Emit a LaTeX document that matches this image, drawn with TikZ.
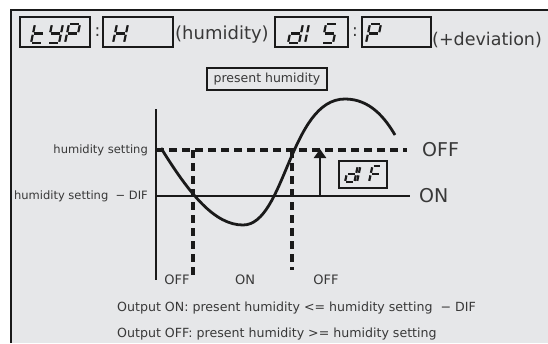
\documentclass[tikz,border=0pt]{standalone}
\usepackage{fontspec}
\setmainfont{DejaVu Sans}
\usetikzlibrary{arrows.meta}
\definecolor{bg}{HTML}{E6E7E9}
\definecolor{ink}{HTML}{1A1A1A}
\definecolor{txt}{HTML}{383838}
\tikzset{
  segline/.style={line width=2.2pt, line cap=butt, shorten <=1.3pt, shorten >=1.3pt, draw=ink},
  dispbox/.style={draw=ink, line width=1.9pt, inner sep=0pt},
  smallbox/.style={draw=ink, line width=1.2pt, inner sep=0pt},
  lbl/.style={text=txt, inner sep=0pt},
  heavy/.style={draw=ink, line width=2.8pt},
  dashline/.style={draw=ink, line width=3.2pt, dash pattern=on 8pt off 5pt},
}
\newcommand\sA{\draw[segline] (4,0) -- (15,0);}
\newcommand\sB{\draw[segline] (15,0) -- (13,9.5);}
\newcommand\sC{\draw[segline] (13,9.5) -- (11,19);}
\newcommand\sD{\draw[segline] (0,19) -- (11,19);}
\newcommand\sE{\draw[segline] (2,9.5) -- (0,19);}
\newcommand\sF{\draw[segline] (4,0) -- (2,9.5);}
\newcommand\sG{\draw[segline] (2,9.5) -- (13,9.5);}
\newcommand\digit[2]{\begin{scope}[shift={#1}]#2\end{scope}}
\newcommand\digitsm[2]{\begin{scope}[shift={#1},scale=0.85]#2\end{scope}}
\begin{document}
\begin{tikzpicture}[x=1pt,y=-1pt]
\useasboundingbox (0,0) rectangle (548,343);
\fill[bg] (10,9) rectangle (548,343);
\draw[ink, line width=2.2pt] (11,343) -- (11,10) -- (548,10);

% display boxes
\node[dispbox, minimum width=70pt, minimum height=30pt] (typ) at (55,32) {};
\node[dispbox, minimum width=70pt, minimum height=30pt] (hbox) at (138,32) {};
\node[dispbox, minimum width=73pt, minimum height=30pt] (dis) at (311.5,32) {};
\node[dispbox, minimum width=69pt, minimum height=30pt] (pbox) at (396.5,32) {};
\node[lbl, font=\fontsize{17}{17}\selectfont] (c1) at (97.5,32) {:};
\node[lbl, font=\fontsize{17}{17}\selectfont] (c2) at (355,32) {:};
\node[lbl, anchor=west, font=\fontsize{18}{18}\selectfont] (hum) at (175,35) {(humidity)};
\node[lbl, anchor=west, font=\fontsize{17.5}{18}\selectfont] (dev) at (432,40) {(+deviation)};

% seven segment characters
\digit{(31,24)}{\sD\sE\sF\sG}
\digit{(48,24)}{\sB\sC\sD\sF\sG}
\digit{(65,24)}{\sA\sB\sE\sF\sG}
\digit{(113,24)}{\sB\sC\sE\sF\sG}
\digit{(288,24)}{\sB\sC\sD\sE\sG}
\digit{(305,24)}{\sE\sF}
\digit{(322,24)}{\sA\sF\sG\sC\sD}
\digit{(366,24)}{\sA\sB\sE\sF\sG}

% present humidity
\node[smallbox, minimum width=120pt, minimum height=22pt, text=txt, font=\fontsize{12.5}{12.5}\selectfont] (ph) at (267,79) {present humidity};

% axes and levels
\coordinate (axtop) at (156,109);
\coordinate (axbot) at (156,280);
\coordinate (setL) at (156,150);
\coordinate (setR) at (407,150);
\coordinate (onL) at (156,196);
\coordinate (onR) at (410,196);
\coordinate (v1t) at (193,150);
\coordinate (v1b) at (193,276);
\coordinate (v2t) at (292,150);
\coordinate (v2b) at (292,270);
\coordinate (arB) at (320,196);
\coordinate (arT) at (320,149);
\coordinate (k0) at (161,148);
\coordinate (kmin) at (243,225);
\coordinate (kmax) at (345,99);
\coordinate (kend) at (395,135);

\draw[heavy] (axtop) -- (axbot);
\draw[heavy] (onL) -- (onR);
\draw[dashline] (setL) -- (setR);
\draw[dashline] (v1t) -- (v1b);
\draw[dashline] (v2t) -- (v2b);
\draw[heavy, -{Triangle[length=9pt,width=12pt]}] (arB) -- (arT);

\draw[ink, line width=2.8pt] (k0) .. controls (190,195) and (215,225) .. (kmin)
  .. controls (285,225) and (290,99) .. (kmax)
  .. controls (370,99) and (385,118) .. (kend);

% dIF box
\node[dispbox, minimum width=48pt, minimum height=27pt] (dif) at (363,174.5) {};
\digitsm{(345,166)}{\sB\sC\sD\sE\sG}
\digitsm{(357,166)}{\sE\sF}
\digitsm{(369,166)}{\sA\sE\sF\sG}

% labels
\node[lbl, anchor=east, font=\fontsize{11.5}{12}\selectfont] (lset) at (148,150) {humidity setting};
\node[lbl, anchor=east, font=\fontsize{11.5}{12}\selectfont] (ldif) at (148,196) {humidity setting\ \ − DIF};
\node[lbl, anchor=west, font=\fontsize{19}{19}\selectfont] (roff) at (422,150) {OFF};
\node[lbl, anchor=west, font=\fontsize{19}{19}\selectfont] (ron) at (419,196) {ON};
\node[lbl, font=\fontsize{13}{13}\selectfont] (boff1) at (177,280) {OFF};
\node[lbl, font=\fontsize{13}{13}\selectfont] (bon) at (245,280) {ON};
\node[lbl, font=\fontsize{13}{13}\selectfont] (boff2) at (326,280) {OFF};
\node[lbl, anchor=west, font=\fontsize{12.6}{13}\selectfont] (out1) at (117,308) {Output ON: present humidity <= humidity setting\ \ − DIF};
\node[lbl, anchor=west, font=\fontsize{12.6}{13}\selectfont] (out2) at (117,334) {Output OFF: present humidity >= humidity setting};
\end{tikzpicture}
\end{document}
